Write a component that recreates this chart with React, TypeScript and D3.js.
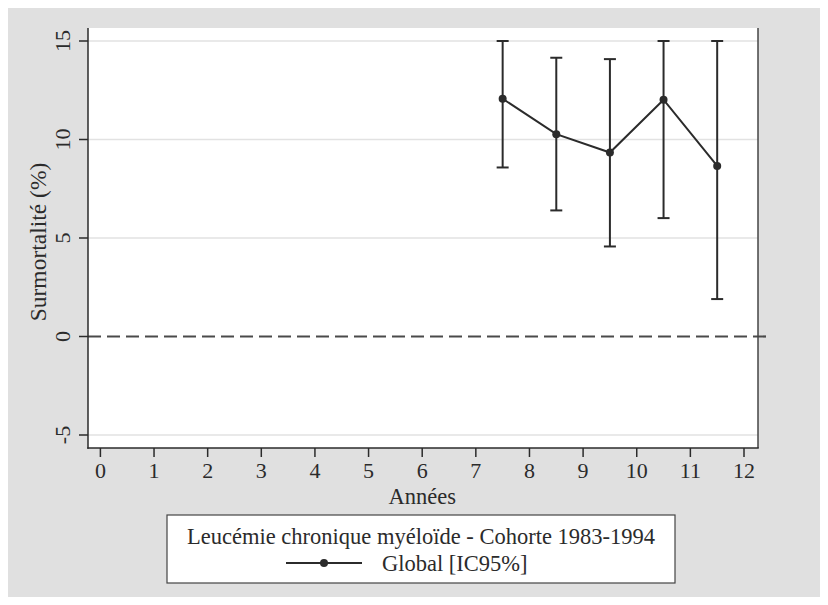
import React from "react";
import * as d3 from "d3";

const years = [7.5, 8.5, 9.5, 10.5, 11.5];
const estimates = [12.07, 10.27, 9.34, 12.02, 8.66];
const lowerCI = [8.58, 6.4, 4.57, 6.01, 1.9];
const upperCI = [15.0, 14.15, 14.08, 15.0, 15.0];
const xTicks = [0, 1, 2, 3, 4, 5, 6, 7, 8, 9, 10, 11, 12];
const yTicks = [-5, 0, 5, 10, 15];
const legendTitle = "Leucémie chronique myéloïde - Cohorte 1983-1994";
const seriesLabel = "Global [IC95%]";
const xTitle = "Années";
const yTitle = "Surmortalité (%)";

const W = 828, H = 605;
const FONT = "'Liberation Serif', serif";
const INK = "#2b2b2b";
const TICK_FS = 22;
const TEXT_FS = 22.5;

export default function App() {
  const plotL = 88, plotR = 758, plotT = 28, plotB = 448;
  const x = d3.scaleLinear().domain([0, 12]).range([100.4, 744]);
  const y = d3.scaleLinear().domain([-5, 15]).range([435, 41]);
  const data = years.map((yr, i) => ({ yr, est: estimates[i], lo: lowerCI[i], hi: upperCI[i] }));
  const line = d3.line<any>().x(d => x(d.yr)).y(d => y(d.est));
  const capW = 6;
  return (
    <div style={{ margin: -8 }}>
      <svg width={W} height={H} style={{ display: "block" }}>
        <rect x={0} y={0} width={W} height={H} fill="#ffffff" />
        <rect x={5} y={7} width={W - 5} height={H - 7} fill="#e0e0e0" />
        <rect x={plotL} y={plotT} width={plotR - plotL} height={plotB - plotT} fill="#ffffff" />
        {yTicks.filter(t => t !== 0).map(t => (
          <line key={t} x1={plotL} x2={plotR} y1={y(t)} y2={y(t)} stroke="#e2e2e2" strokeWidth={1.5} />
        ))}
        <line x1={plotL} x2={767} y1={y(0)} y2={y(0)} stroke="#4a4a4a" strokeWidth={2.2} strokeDasharray="13,6" />
        <line x1={plotR} x2={plotR} y1={plotT} y2={plotB} stroke="#444" strokeWidth={1.5} />
        <line x1={plotL} x2={plotL} y1={plotT} y2={plotB + 0.75} stroke={INK} strokeWidth={1.5} />
        <line x1={plotL - 0.75} x2={plotR + 0.75} y1={plotB} y2={plotB} stroke={INK} strokeWidth={1.5} />
        {yTicks.map(t => (
          <g key={t}>
            <line x1={plotL - 9} x2={plotL} y1={y(t)} y2={y(t)} stroke={INK} strokeWidth={1.5} />
            <text transform={`translate(${69.5},${y(t)}) rotate(-90)`} textAnchor="middle" fontFamily={FONT} fontSize={TICK_FS} fill={INK}>{t}</text>
          </g>
        ))}
        {xTicks.map(t => (
          <g key={t}>
            <line x1={x(t)} x2={x(t)} y1={plotB} y2={plotB + 9} stroke={INK} strokeWidth={1.5} />
            <text x={x(t)} y={478} textAnchor="middle" fontFamily={FONT} fontSize={TICK_FS} fill={INK}>{t}</text>
          </g>
        ))}
        <text x={x(6)} y={504} textAnchor="middle" fontFamily={FONT} fontSize={TEXT_FS} fill={INK}>{xTitle}</text>
        <text transform={`translate(${46},${242}) rotate(-90)`} textAnchor="middle" fontFamily={FONT} fontSize={23.5} fill={INK}>{yTitle}</text>
        {data.map((d, i) => (
          <g key={i} stroke={INK} strokeWidth={2}>
            <line x1={x(d.yr)} x2={x(d.yr)} y1={y(d.lo)} y2={y(d.hi)} />
            <line x1={x(d.yr) - capW} x2={x(d.yr) + capW} y1={y(d.lo)} y2={y(d.lo)} />
            <line x1={x(d.yr) - capW} x2={x(d.yr) + capW} y1={y(d.hi)} y2={y(d.hi)} />
          </g>
        ))}
        <path d={line(data) || ""} fill="none" stroke={INK} strokeWidth={2} />
        {data.map((d, i) => (
          <circle key={i} cx={x(d.yr)} cy={y(d.est)} r={4} fill={INK} />
        ))}
        <rect x={167} y={515} width={508} height={68} fill="#ffffff" stroke="#444" strokeWidth={1.2} />
        <text x={421} y={544} textAnchor="middle" fontFamily={FONT} fontSize={TEXT_FS} fill={INK}>{legendTitle}</text>
        <line x1={286} x2={362} y1={563} y2={563} stroke={INK} strokeWidth={2} />
        <circle cx={324} cy={563} r={4} fill={INK} />
        <text x={382} y={570.5} fontFamily={FONT} fontSize={TEXT_FS} fill={INK}>{seriesLabel}</text>
      </svg>
    </div>
  );
}
